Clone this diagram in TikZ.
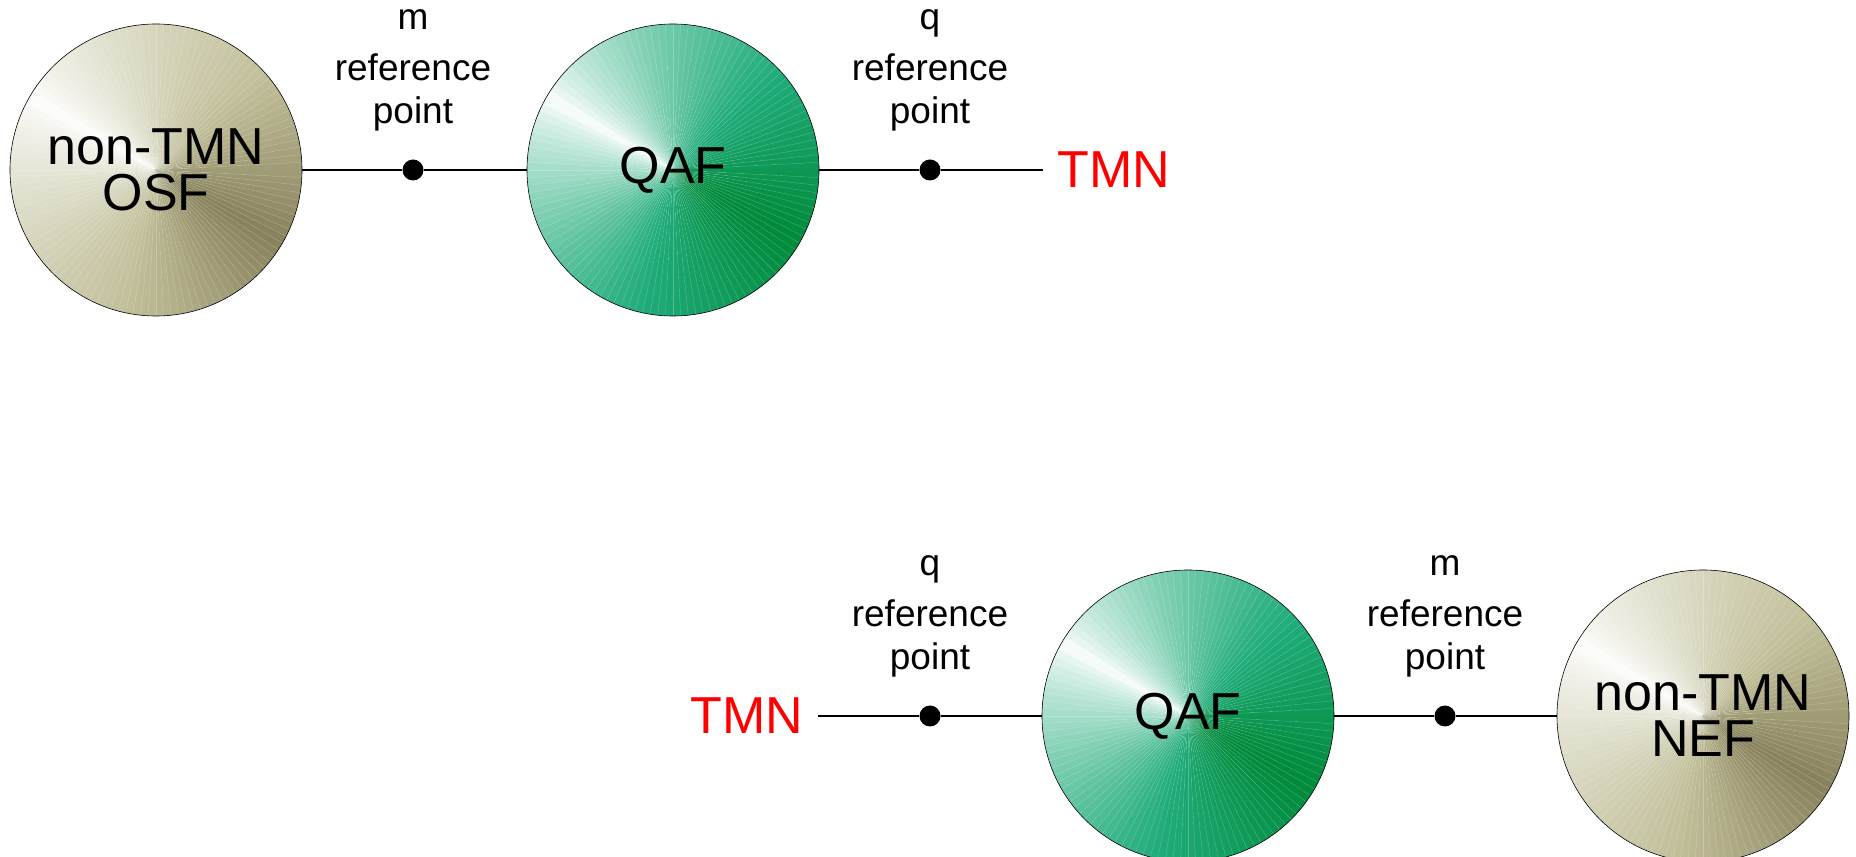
\documentclass[tikz,border=0pt]{standalone}
\usepackage{fontspec}
\setmainfont{Liberation Sans}
\usepackage[usenames,x11names]{xcolor}
\definecolor{qafmid}{RGB}{32,172,122}
\definecolor{qafdark}{RGB}{0,138,58}
\definecolor{nonmid}{RGB}{194,192,155}
\definecolor{nondark}{RGB}{136,130,92}
\usepackage{tikz}
\usetikzlibrary{positioning}

% conic fill of a ball: white streak at 150 deg, fading to #1 and then to #2
\newcommand{\conicfill}[2]{%
  \foreach \a in {0,3,...,357}{%
    \pgfmathsetmacro{\d}{abs(mod(\a+391.5,360)-180)/180}%
    \pgfmathsetmacro{\pa}{\d<0.6 ? 100*(\d/0.6)^0.7 : 100}%
    \pgfmathsetmacro{\pb}{\d<0.6 ? 0 : 100*(\d-0.6)/0.4}%
    \colorlet{wedgemid}{#2!\pb!#1}%
    \colorlet{wedgecol}{wedgemid!\pa!white}%
    \fill[wedgecol] (path picture bounding box.center) -- ++(\a:160pt)
      arc[start angle=\a, end angle=\a+3.2, radius=160pt] -- cycle;
    \draw[white, opacity=0.25, line width=0.4pt]
      (path picture bounding box.center) -- ++(\a:160pt);
  }%
}

\begin{document}
\begin{tikzpicture}[x=1pt, y=1pt]
    \tikzstyle{ball}=[ %
      circle, draw, line width=0.6pt,
      minimum size=292pt, inner sep=0pt,
      align=center,
      font=\fontsize{52}{46}\selectfont
    ]
    \tikzstyle{tanball}=[ball, path picture={\conicfill{nonmid}{nondark}}]
    \tikzstyle{greenball}=[ball, path picture={\conicfill{qafmid}{qafdark}}]
    \tikzstyle{refdot}=[circle, fill=black, minimum size=21pt, inner sep=0pt]
    \tikzstyle{tmn}=[text=red, inner xsep=14pt, inner ysep=0pt,
      font=\fontsize{52}{60}\selectfont]
    \tikzstyle{reflabel}=[align=center, inner sep=0pt,
      font=\fontsize{37}{43}\selectfont]
    \tikzstyle{link}=[line width=1.6pt]

    \useasboundingbox (0,0) rectangle (1856,857);

  % OSF side
    \path (156,687)  node(osf)  [tanball]   {non-TMN\\OSF}
          (413,687)  node(ma)   [refdot]    {}
          (673,687)  node(qafa) [greenball] {QAF}
          (930,687)  node(qa)   [refdot]    {}
          (1114,687) node(tmna) [tmn]       {TMN};
    \node[reflabel, above=39pt of ma.center] {m\\[8pt]reference\\point};
    \node[reflabel, above=39pt of qa.center] {q\\[8pt]reference\\point};
    \draw[link] (osf) -- (ma) -- (qafa) -- (qa) -- (tmna);

  % NEF side
    \path (747,141)  node(tmnb) [tmn]       {TMN}
          (930,141)  node(qb)   [refdot]    {}
          (1188,141) node(qafb) [greenball] {QAF}
          (1445,141) node(mb)   [refdot]    {}
          (1703,141) node(nef)  [tanball]   {non-TMN\\NEF};
    \node[reflabel, above=39pt of qb.center] {q\\[8pt]reference\\point};
    \node[reflabel, above=39pt of mb.center] {m\\[8pt]reference\\point};
    \draw[link] (tmnb) -- (qb) -- (qafb) -- (mb) -- (nef);
  \end{tikzpicture}
\end{document}
